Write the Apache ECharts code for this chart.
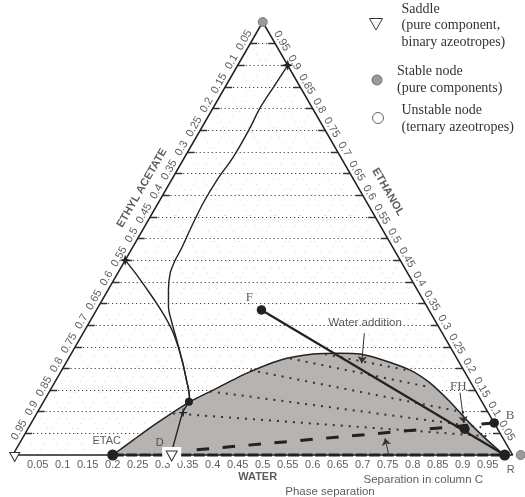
<!DOCTYPE html>
<html>
<head>
<meta charset="utf-8">
<script src="https://cdn.jsdelivr.net/npm/echarts@6/dist/echarts.min.js"></script>
<style>
  html, body { margin: 0; padding: 0; background: #fff; }
  #chart { width: 525px; height: 497px; }
</style>
</head>
<body>
<div id="chart"></div>
<script>
// Ternary diagram ethyl acetate / ethanol / water.
// Every composition is written as [water, ethanol]; ethyl acetate is the rest.

const tickValues = [0.05, 0.1, 0.15, 0.2, 0.25, 0.3, 0.35, 0.4, 0.45, 0.5,
                    0.55, 0.6, 0.65, 0.7, 0.75, 0.8, 0.85, 0.9, 0.95];

// liquid-liquid envelope (binodal curve)
const binodal = [
  [0.200, 0.000], [0.224, 0.035], [0.251, 0.073], [0.291, 0.121], [0.326, 0.150],
  [0.374, 0.189], [0.425, 0.219], [0.485, 0.233], [0.537, 0.235], [0.578, 0.233],
  [0.632, 0.219], [0.697, 0.196], [0.752, 0.166], [0.813, 0.123], [0.878, 0.073],
  [0.931, 0.035], [0.971, 0.008], [0.985, 0.000]
];

// tie lines inside the two-liquid region
const tieLines = [
  [[0.508, 0.233], [0.695, 0.195]],
  [[0.443, 0.223], [0.754, 0.157]],
  [[0.377, 0.196], [0.856, 0.098]],
  [[0.321, 0.147], [0.905, 0.064]],
  [[0.273, 0.096], [0.933, 0.043]]
];

// distillation boundaries
const boundaryTop = [
  [0.100, 0.900], [0.097, 0.852], [0.094, 0.801], [0.097, 0.751], [0.097, 0.688],
  [0.091, 0.635], [0.090, 0.582], [0.094, 0.527], [0.099, 0.477], [0.100, 0.450],
  [0.105, 0.420], [0.121, 0.381], [0.140, 0.343], [0.166, 0.305], [0.195, 0.266],
  [0.217, 0.236], [0.237, 0.208], [0.261, 0.173], [0.286, 0.135], [0.291, 0.123]
];
const boundaryLeft = [
  [0.000, 0.450], [0.040, 0.416], [0.088, 0.373], [0.133, 0.331], [0.174, 0.289],
  [0.206, 0.250], [0.226, 0.223], [0.237, 0.208], [0.261, 0.173], [0.286, 0.135],
  [0.291, 0.123]
];
const boundaryLow = [
  [0.291, 0.123], [0.291, 0.098], [0.301, 0.058], [0.312, 0.016], [0.318, 0.000]
];

// process points
const ptETAC = [0.200, 0.000];
const ptD = [0.318, 0.000];
const ptF = [0.330, 0.335];
const ptFH = [0.874, 0.060];
const ptB = [0.926, 0.074];
const ptR = [0.984, 0.000];
const ptJunction = [0.291, 0.123];
const ptCross = [0.292, 0.098];
const ptStarRight = [0.100, 0.900];
const ptStarLeft = [0.000, 0.450];
const colStart = [0.362, 0.012];   // separation line in column C starts here, ends at B

// vertices
const vEA = [0, 0], vW = [1, 0], vE = [0, 1];

// composition -> plot plane (x along the water axis, y = ethanol height)
const tern = ([w, e]) => [w + e / 2, e];

const SANS = 'Liberation Sans, Arial, sans-serif';
const SERIF = 'Liberation Serif, Times New Roman, serif';
const INK = '#222';

const seg = (a, b) => ({ coords: [tern(a), tern(b)] });

// grid segments
const faintSegs = [];
tickValues.forEach(k => {
  faintSegs.push(seg([k, 0], [k, 1 - k]));          // constant water
  faintSegs.push(seg([1 - k, 0], [0, 1 - k]));      // constant ethyl acetate
});
const levelSegs = tickValues.map(k => seg([0, k], [1 - k, k]));
const edgeTicks = [];
tickValues.forEach(k => {
  edgeTicks.push(seg([0, k], [0.014, k]));
  edgeTicks.push(seg([1 - k, k], [1 - k - 0.014, k]));
});

function lineSeries(pts, style, extra) {
  return Object.assign({
    type: 'line', data: pts.map(tern), symbol: 'none', silent: true, clip: false,
    lineStyle: Object.assign({ color: INK, width: 1.4 }, style), z: 5
  }, extra || {});
}

function textSeries(items, labelStyle, z) {
  return {
    type: 'scatter', silent: true, clip: false, z: z || 9, symbolSize: 1,
    itemStyle: { color: 'transparent' },
    data: items.map(it => ({ value: it.at, label: Object.assign({ formatter: it.text }, it.style || {}) })),
    label: Object.assign({
      show: true, position: 'inside', color: '#333', fontFamily: SANS, fontSize: 11
    }, labelStyle)
  };
}

function markerSeries(pts, itemStyle, extra) {
  return Object.assign({
    type: 'scatter', silent: true, clip: false, z: 8,
    data: pts.map(tern), symbol: 'circle', symbolSize: 9,
    itemStyle: Object.assign({ color: INK, opacity: 1 }, itemStyle)
  }, extra || {});
}

const fmt = v => String(v);

const bottomLabels = tickValues.map(v => ({ at: tern([v, 0]), text: fmt(v) }));
const leftLabels = tickValues.map(v => ({ at: tern([0, 1 - v]), text: fmt(v) }));
const rightLabels = tickValues.map(v => ({ at: tern([1 - v, v]), text: fmt(v) }));

const titles = [
  { at: [0.490, -0.051], text: 'WATER', style: { fontWeight: 'bold' } },
  { at: [0.2586, 0.6166], text: 'ETHYL ACETATE', style: { fontWeight: 'bold', rotate: 60 } },
  { at: [0.7506, 0.6074], text: 'ETHANOL', style: { fontWeight: 'bold', rotate: -60 } },
  { at: [0.7046, 0.3055], text: 'Water addition', style: { fontSize: 11.5 } },
  { at: [0.8212, -0.0577], text: 'Separation in column C', style: { fontSize: 11.5 } },
  { at: [0.6346, -0.0848], text: 'Phase separation', style: { fontSize: 11.5 } },
  { at: [0.8912, 0.1577], text: 'FH', style: { fontFamily: SERIF, fontSize: 13 } }
];

const arrows = [
  { coords: [[0.7032, 0.281], [0.698, 0.2118]] },
  { coords: [[0.8946, 0.1439], [0.9026, 0.0732]] },
  { coords: [[0.7612, -0.0462], [0.7446, 0.0386]] },
  { coords: [[0.6212, -0.0647], [0.6212, -0.0023]] }
];

const pointLabels = [
  { at: tern(ptF), text: 'F', style: { fontFamily: SERIF, fontSize: 13, offset: [-12, -12] } },
  { at: tern(ptB), text: 'B', style: { fontFamily: SERIF, fontSize: 13, offset: [16, -7] } },
  { at: tern(ptR), text: 'R', style: { offset: [6, 15] } },
  { at: tern(ptETAC), text: 'ETAC', style: { offset: [-6, -14] } },
  { at: tern(ptD), text: 'D', style: { offset: [-12, -12] } }
];

const starPath = 'path://M0,-10 L2.6,-2.6 L10,0 L2.6,2.6 L0,10 L-2.6,2.6 L-10,0 L-2.6,-2.6 Z';
const plusPath = 'path://M-1,-6 L1,-6 L1,-1 L6,-1 L6,1 L1,1 L1,6 L-1,6 L-1,1 L-6,1 L-6,-1 L-1,-1 Z';

const option = {
  animation: false,
  backgroundColor: '#fff',
  grid: { left: 12.7, top: 22, width: 500, height: 433 },
  xAxis: { type: 'value', min: 0, max: 1, show: false },
  yAxis: { type: 'value', min: 0, max: 1, show: false },
  series: [
    { type: 'lines', coordinateSystem: 'cartesian2d', silent: true, z: 1, data: faintSegs,
      lineStyle: { color: '#cfcfcf', width: 1, type: [1, 5], opacity: 1 } },
    { type: 'lines', coordinateSystem: 'cartesian2d', silent: true, z: 2, data: levelSegs,
      lineStyle: { color: '#222', width: 1, type: [1, 3], opacity: 1 } },
    { type: 'lines', coordinateSystem: 'cartesian2d', silent: true, z: 2, data: edgeTicks,
      lineStyle: { color: '#333', width: 1.3, opacity: 1 } },
    lineSeries(binodal, { width: 1.5 }, { smooth: 0.25, z: 3,
      areaStyle: { color: '#b7b3b0', opacity: 1 } }),
    { type: 'lines', coordinateSystem: 'cartesian2d', silent: true, z: 4,
      data: tieLines.map(([a, b]) => seg(a, b)),
      lineStyle: { color: '#333', width: 2, type: [2, 6], opacity: 1 } },
    lineSeries(boundaryTop, {}, { smooth: 0.3 }),
    lineSeries(boundaryLeft, {}, { smooth: 0.3 }),
    lineSeries(boundaryLow, {}, { smooth: 0.2 }),
    lineSeries([ptF, ptR], { width: 2.2 }),
    lineSeries([colStart, ptB], { width: 3, type: [12.5, 13.5] }),
    lineSeries([ptETAC, ptR], { width: 3, type: [11, 2.5] }, { z: 6 }),
    lineSeries([vEA, vW, vE, vEA], { width: 1.5 }, { z: 6 }),
    { type: 'lines', coordinateSystem: 'cartesian2d', silent: true, z: 7, data: arrows,
      symbol: ['none', 'arrow'], symbolSize: [0, 7],
      lineStyle: { color: '#333', width: 1, opacity: 1 } },
    // nodes
    markerSeries([ptETAC, ptR], {}, { symbolSize: 11 }),
    markerSeries([ptF, ptB], {}, { symbolSize: 9.5 }),
    markerSeries([ptFH], {}, { symbolSize: 10 }),
    markerSeries([ptJunction], {}, { symbolSize: 8 }),
    markerSeries([ptStarRight, ptStarLeft], {}, { symbol: starPath, symbolSize: 11 }),
    markerSeries([ptCross], {}, { symbol: plusPath, symbolSize: 8 }),
    markerSeries([vE], { color: '#9b9b9b', borderColor: '#7a7a7a', borderWidth: 1 }, { symbolSize: 9 }),
    markerSeries([vW], { color: '#9b9b9b', borderColor: '#7a7a7a', borderWidth: 1 },
      { symbolSize: 9, symbolOffset: [8, 0] }),
    markerSeries([vEA], { color: '#fff', borderColor: '#333', borderWidth: 1 },
      { symbol: 'triangle', symbolRotate: 180, symbolSize: [10, 9], symbolOffset: [2, 2], z: 8 }),
    // tick labels
    textSeries(bottomLabels, { offset: [0, 10] }),
    textSeries(leftLabels, { rotate: 60, offset: [0, -7] }),
    textSeries(rightLabels, { rotate: -60, offset: [1, -7] }),
    textSeries(titles, {}),
    textSeries(pointLabels, {}),
    // saddle D sits on a white patch
    markerSeries([ptD], { color: '#fff' }, { symbol: 'rect', symbolSize: [19, 16], z: 10 }),
    markerSeries([ptD], { color: '#fff', borderColor: '#333', borderWidth: 1 },
      { symbol: 'triangle', symbolRotate: 180, symbolSize: [11, 10], symbolOffset: [0, 1], z: 11 })
  ],
  graphic: [
    { type: 'polygon', z: 20, shape: { points: [[369.5, 18.5], [382.5, 18.5], [376, 30]] },
      style: { fill: '#fff', stroke: '#333', lineWidth: 1 } },
    { type: 'text', z: 20, x: 401.5, y: 0.5,
      style: { text: 'Saddle\n(pure component,\nbinary azeotropes)', font: '14px ' + SERIF,
               fill: '#333', lineHeight: 16.7, verticalAlign: 'top' } },
    { type: 'circle', z: 20, shape: { cx: 377, cy: 80, r: 5 },
      style: { fill: '#9b9b9b', stroke: '#6f6f6f', lineWidth: 1 } },
    { type: 'text', z: 20, x: 397, y: 62.5,
      style: { text: 'Stable node\n(pure components)', font: '14px ' + SERIF,
               fill: '#333', lineHeight: 17, verticalAlign: 'top' } },
    { type: 'circle', z: 20, shape: { cx: 378, cy: 118, r: 5.5 },
      style: { fill: '#fff', stroke: '#666', lineWidth: 1 } },
    { type: 'text', z: 20, x: 401.5, y: 101.5,
      style: { text: 'Unstable node\n(ternary azeotropes)', font: '14px ' + SERIF,
               fill: '#333', lineHeight: 17, verticalAlign: 'top' } }
  ]
};

const chart = echarts.init(document.getElementById('chart'));
chart.setOption(option);
</script>
</body>
</html>
